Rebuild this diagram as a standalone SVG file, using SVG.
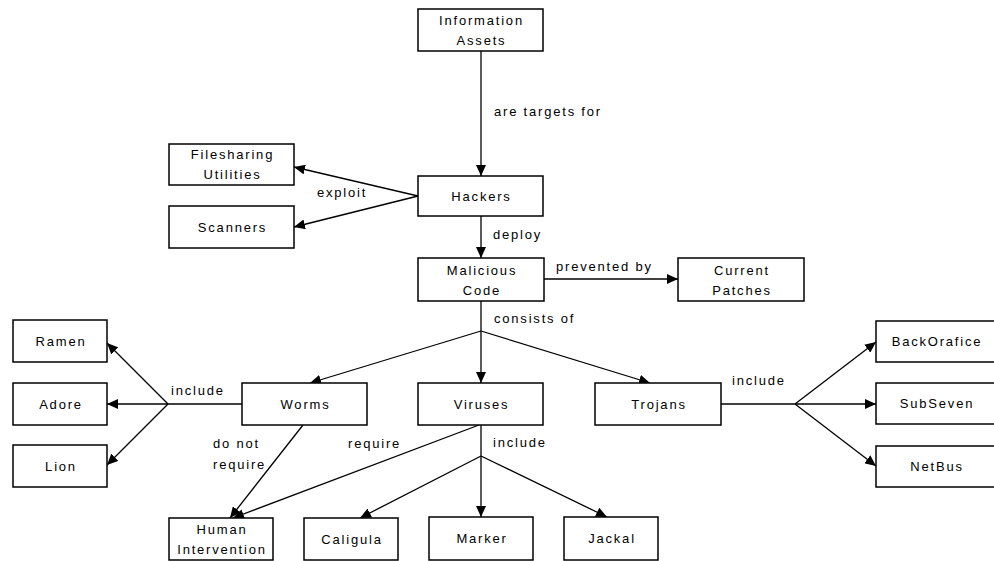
<svg xmlns="http://www.w3.org/2000/svg" width="994" height="561" viewBox="0 0 994 561">
<style>
.box{fill:#fff;stroke:#000;stroke-width:1.5}
.t{font-family:"Liberation Sans",Arial,sans-serif;font-size:13px;letter-spacing:1.8px;fill:#000}
.c{text-anchor:middle}
.ln{stroke:#000;stroke-width:1.3;fill:none}
.ar{marker-end:url(#ah)}
</style>
<defs>
<marker id="ah" markerUnits="userSpaceOnUse" markerWidth="12" markerHeight="10" refX="11" refY="5" orient="auto">
<path d="M0,0 L11,5 L0,10 Z" fill="#000"/>
</marker>
</defs>
<rect width="994" height="561" fill="#fff"/>
<g id="connectors">
<line class="ln ar" x1="481" y1="51" x2="481" y2="176"/>
<line class="ln ar" x1="418" y1="196" x2="294" y2="167"/>
<line class="ln ar" x1="418" y1="196" x2="294" y2="227"/>
<line class="ln ar" x1="481" y1="216" x2="481" y2="258"/>
<line class="ln ar" x1="544" y1="279" x2="678" y2="279"/>
<line class="ln" x1="481" y1="301" x2="481" y2="331"/>
<line class="ln ar" x1="481" y1="331" x2="310" y2="383"/>
<line class="ln ar" x1="481" y1="331" x2="481" y2="383"/>
<line class="ln ar" x1="481" y1="331" x2="650" y2="383"/>
<line class="ln" x1="242" y1="404" x2="168" y2="404"/>
<line class="ln ar" x1="168" y1="404" x2="107" y2="343"/>
<line class="ln ar" x1="168" y1="404" x2="107" y2="404"/>
<line class="ln ar" x1="168" y1="404" x2="107" y2="465"/>
<line class="ln ar" x1="303" y1="425" x2="230" y2="518"/>
<line class="ln ar" x1="479" y1="425" x2="233" y2="518"/>
<line class="ln" x1="481" y1="425" x2="481" y2="456"/>
<line class="ln ar" x1="481" y1="456" x2="360" y2="518"/>
<line class="ln ar" x1="481" y1="456" x2="481" y2="517"/>
<line class="ln ar" x1="481" y1="456" x2="607" y2="517"/>
<line class="ln" x1="721" y1="404" x2="795" y2="404"/>
<line class="ln ar" x1="795" y1="404" x2="876" y2="342"/>
<line class="ln ar" x1="795" y1="404" x2="876" y2="404"/>
<line class="ln ar" x1="795" y1="404" x2="876" y2="466"/>
</g>
<g id="labels">
<text class="t" x="494" y="116">are targets for</text>
<text class="t" x="317" y="197">exploit</text>
<text class="t" x="493" y="239">deploy</text>
<text class="t" x="556" y="271">prevented by</text>
<text class="t" x="494" y="323">consists of</text>
<text class="t" x="171" y="395">include</text>
<text class="t" x="213" y="448">do not</text>
<text class="t" x="213" y="469">require</text>
<text class="t" x="348" y="448">require</text>
<text class="t" x="493" y="447">include</text>
<text class="t" x="732" y="385">include</text>
</g>
<g id="info"><rect class="box" x="418" y="9" width="125" height="42"/><text class="t c" x="481.5" y="25">Information</text><text class="t c" x="481.5" y="45">Assets</text></g>
<g id="hackers"><rect class="box" x="418" y="176" width="125" height="40"/><text class="t c" x="481.5" y="200.5">Hackers</text></g>
<g id="filesharing"><rect class="box" x="169" y="144" width="125" height="41"/><text class="t c" x="232.5" y="159">Filesharing</text><text class="t c" x="232.5" y="179">Utilities</text></g>
<g id="scanners"><rect class="box" x="169" y="206" width="125" height="42"/><text class="t c" x="232.5" y="231.5">Scanners</text></g>
<g id="malicious"><rect class="box" x="418" y="258" width="126" height="43"/><text class="t c" x="482" y="274.5">Malicious</text><text class="t c" x="482" y="294.5">Code</text></g>
<g id="patches"><rect class="box" x="678" y="258" width="126" height="43"/><text class="t c" x="742" y="274.5">Current</text><text class="t c" x="742" y="294.5">Patches</text></g>
<g id="ramen"><rect class="box" x="13" y="320" width="94" height="42"/><text class="t c" x="61" y="345.5">Ramen</text></g>
<g id="adore"><rect class="box" x="13" y="383" width="94" height="42"/><text class="t c" x="61" y="408.5">Adore</text></g>
<g id="lion"><rect class="box" x="13" y="445" width="94" height="42"/><text class="t c" x="61" y="470.5">Lion</text></g>
<g id="worms"><rect class="box" x="242" y="383" width="125" height="42"/><text class="t c" x="305.5" y="408.5">Worms</text></g>
<g id="viruses"><rect class="box" x="418" y="383" width="125" height="42"/><text class="t c" x="481.5" y="408.5">Viruses</text></g>
<g id="trojans"><rect class="box" x="595" y="383" width="126" height="42"/><text class="t c" x="659" y="408.5">Trojans</text></g>
<g id="backorafice"><rect class="box" x="876" y="321" width="125" height="41"/><text class="t c" x="937" y="346">BackOrafice</text></g>
<g id="subseven"><rect class="box" x="876" y="383" width="125" height="41"/><text class="t c" x="937" y="408">SubSeven</text></g>
<g id="netbus"><rect class="box" x="876" y="446" width="125" height="41"/><text class="t c" x="937" y="471">NetBus</text></g>
<g id="human"><rect class="box" x="169" y="518" width="104" height="42"/><text class="t c" x="222" y="534">Human</text><text class="t c" x="222" y="554">Intervention</text></g>
<g id="caligula"><rect class="box" x="304" y="518" width="94" height="42"/><text class="t c" x="352" y="543.5">Caligula</text></g>
<g id="marker"><rect class="box" x="429" y="517" width="104" height="43"/><text class="t c" x="482" y="543">Marker</text></g>
<g id="jackal"><rect class="box" x="564" y="517" width="94" height="43"/><text class="t c" x="612" y="543">Jackal</text></g>
</svg>
